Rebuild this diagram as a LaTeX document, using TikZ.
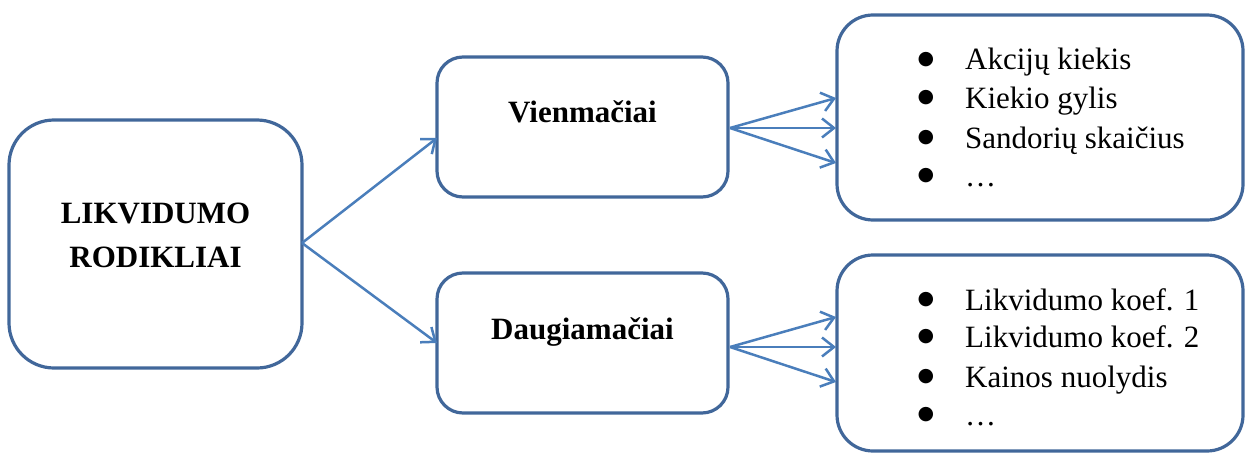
\documentclass[tikz,border=0pt]{standalone}
\usepackage{fontspec}
\setmainfont{Liberation Serif}
\newfontfamily\symfont{DejaVu Sans}
\usetikzlibrary{arrows.meta}
\definecolor{boxblue}{HTML}{41679A}
\definecolor{arrblue}{HTML}{4A7EBB}
\tikzset{
  box/.style={draw=boxblue, line width=3.2pt, fill=white, inner sep=0pt},
  boldtxt/.style={font=\fontsize{31}{44}\selectfont\bfseries, inner sep=0pt, align=center},
  itemtxt/.style={font=\fontsize{31}{38}\selectfont, inner sep=0pt, anchor=base west},
  bullet/.style={font=\symfont\fontsize{19}{19}\selectfont, inner sep=0pt, anchor=center},
  conn/.style={draw=arrblue, line width=2.5pt, -{Straight Barb[length=12pt,width=19pt,line width=2.5pt]}},
}
\begin{document}
\begin{tikzpicture}[x=1pt,y=-1pt]
\useasboundingbox (0,0) rectangle (1246,452);
% boxes
\node[box, rounded corners=45pt, minimum width=293pt, minimum height=248pt] (L) at (155.5,244) {};
\node[box, rounded corners=26pt, minimum width=291pt, minimum height=140pt] (V) at (582.5,127) {};
\node[box, rounded corners=26pt, minimum width=291pt, minimum height=140pt] (D) at (582.5,343) {};
\node[box, rounded corners=36pt, minimum width=406pt, minimum height=205pt] (R1) at (1040,117.5) {};
\node[box, rounded corners=36pt, minimum width=406pt, minimum height=196pt] (R2) at (1040,353) {};
% texts
\node[boldtxt] (Lt) at (155.5,235) {LIKVIDUMO\\RODIKLIAI};
\node[boldtxt] (Vt) at (582.5,112) {Vienmačiai};
\node[boldtxt] (Dt) at (582.5,332) {Daugiamačiai};
\node[itemtxt] (a1) at (965,70) {Akcijų kiekis};
\node[itemtxt] (a2) at (965,108) {Kiekio gylis};
\node[itemtxt] (a3) at (965,148) {Sandorių skaičius};
\node[itemtxt] (a4) at (965,186) {…};
\node[itemtxt] (b1) at (965,310) {Likvidumo koef. 1};
\node[itemtxt] (b2) at (965,347) {Likvidumo koef. 2};
\node[itemtxt] (b3) at (965,387) {Kainos nuolydis};
\node[itemtxt] (b4) at (965,425) {…};
% bullets
\foreach \n in {a1,a2,a3,a4,b1,b2,b3,b4}
  \node[bullet] (bul\n) at ([xshift=-39pt,yshift=10pt]\n.base west) {●};
% connectors
\coordinate (Ls) at (302,243);
\coordinate (Vin) at (437,138);
\coordinate (Din) at (437,343);
\draw[conn] (Ls) -- (Vin);
\draw[conn] (Ls) -- (Din);
\coordinate (Vs) at (730,128);
\coordinate (V1) at (836,98);
\coordinate (V2) at (836,128);
\coordinate (V3) at (836,163);
\draw[conn] (Vs) -- (V1);
\draw[conn] (Vs) -- (V2);
\draw[conn] (Vs) -- (V3);
\coordinate (Ds) at (730,347);
\coordinate (D1) at (836,317);
\coordinate (D2) at (836,347);
\coordinate (D3) at (836,382);
\draw[conn] (Ds) -- (D1);
\draw[conn] (Ds) -- (D2);
\draw[conn] (Ds) -- (D3);
\end{tikzpicture}
\end{document}
